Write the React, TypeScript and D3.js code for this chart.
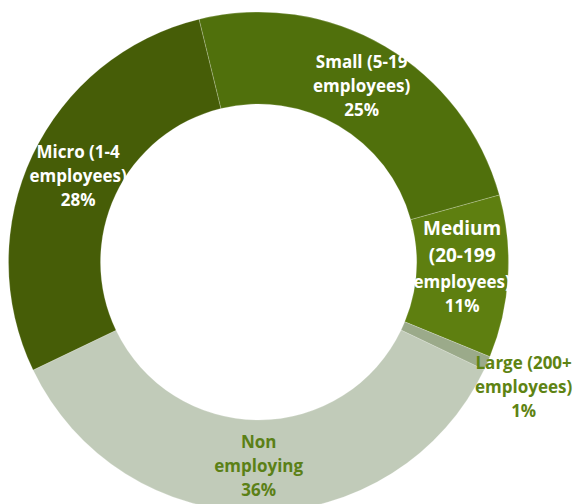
import React from "react";
import * as d3 from "d3";

const categories = ["Non employing", "Micro (1-4 employees)", "Small (5-19 employees)", "Medium (20-199 employees)", "Large (200+ employees)"];
const values = [35.8, 28.3, 24.5, 10.5, 0.9];
const percentLabels = ["36%", "28%", "25%", "11%", "1%"];
const labelLines = [["Non", "employing"], ["Micro (1-4", "employees)"], ["Small (5-19", "employees)"], ["Medium", "(20-199", "employees)"], ["Large (200+", "employees)"]];
const colors = ["#C1CBB9", "#465D07", "#50700C", "#5E7F10", "#9BAA8A"];
const textColors = ["#5B8016", "#FFFFFF", "#FFFFFF", "#FFFFFF", "#5E8313"];
const outsideLabel = [false, false, false, false, true];
const labelNudgeX = [0, 4, 0, 0, 0];
const labelNudgeY = [0, 1, 0, -7, 8];

const W = 575;
const H = 504;
const cx = 258.5;
const cy = 262;
const outerR = 250;
const innerR = 158;
const startDeg = 115.5;

export default function App() {
  const pie = d3
    .pie<number>()
    .sort(null)
    .value((d) => d)
    .startAngle((startDeg * Math.PI) / 180)
    .endAngle((startDeg * Math.PI) / 180 + 2 * Math.PI);
  const arcs = pie(values);
  const arc = d3.arc<d3.PieArcDatum<number>>().innerRadius(innerR).outerRadius(outerR);
  const outArc = d3.arc<d3.PieArcDatum<number>>().innerRadius(290).outerRadius(290);

  return (
    <svg width={W} height={H} style={{ position: "absolute", left: 0, top: 0, background: "#fff" }}>
      <g transform={`translate(${cx},${cy})`}>
        {arcs.map((a, i) => (
          <path key={i} d={arc(a) || ""} fill={colors[i]} stroke="#ffffff" strokeOpacity={0.3} strokeWidth={0.7} />
        ))}
        {arcs.map((a, i) => {
          const [x0, y0] = outsideLabel[i] ? outArc.centroid(a) : arc.centroid(a);
          const x = x0 + labelNudgeX[i];
          const y = y0 + labelNudgeY[i];
          const lines = [...labelLines[i], percentLabels[i]];
          const sizes = lines.map((_, j) => (i === 3 && j < 2 ? 19 : 17));
          const offsets: number[] = [0];
          for (let j = 1; j < lines.length; j++) offsets.push(offsets[j - 1] + sizes[j - 1] * 1.42);
          const span = offsets[offsets.length - 1];
          return (
            <text
              key={i}
              x={x}
              y={y}
              textAnchor="middle"
              fill={textColors[i]}
              fontFamily="'Open Sans', 'Noto Sans', sans-serif"
              fontWeight={700}
              fontSize={17}
            >
              {lines.map((t, j) => (
                <tspan key={j} x={x} y={y - span / 2 + offsets[j]} dy="0.35em" fontSize={sizes[j]}>
                  {t}
                </tspan>
              ))}
            </text>
          );
        })}
      </g>
    </svg>
  );
}
